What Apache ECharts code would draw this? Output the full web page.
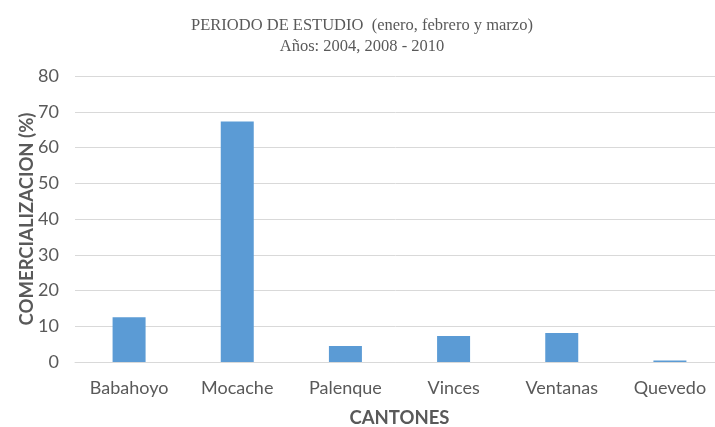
<!DOCTYPE html>
<html>
<head>
<meta charset="utf-8">
<script src="https://cdn.jsdelivr.net/npm/echarts@6/dist/echarts.min.js"></script>
<style>
  html, body { margin: 0; padding: 0; background: #fff; }
  #chart { width: 715px; height: 427px; }
</style>
</head>
<body>
<div id="chart"></div>
<script>
// datos del grafico
var cantones = ['Babahoyo', 'Mocache', 'Palenque', 'Vinces', 'Ventanas', 'Quevedo'];
var comercializacion = [12.5, 67.3, 4.5, 7.3, 8.1, 0.4];

var chart = echarts.init(document.getElementById('chart'));
var grisTexto = '#595959';

chart.setOption({
  animation: false,
  title: {
    text: 'PERIODO DE ESTUDIO  (enero, febrero y marzo)\nAños: 2004, 2008 - 2010',
    left: 357,
    top: 10,
    textAlign: 'center',
    textStyle: {
      fontFamily: 'Liberation Serif',
      fontWeight: 'normal',
      fontSize: 16.5,
      lineHeight: 21,
      color: grisTexto
    }
  },
  grid: {
    left: 75,
    top: 76,
    right: -9,
    bottom: 65,
    outerBoundsMode: 'none',
    containLabel: false
  },
  xAxis: {
    type: 'category',
    data: cantones,
    name: 'CANTONES',
    nameLocation: 'middle',
    nameGap: 47,
    nameTextStyle: {
      fontFamily: 'Lato',
      fontWeight: 'bold',
      fontSize: 18.5,
      color: grisTexto
    },
    axisLine: { lineStyle: { color: '#d9d9d9' } },
    axisTick: { show: false },
    axisLabel: {
      margin: 17,
      fontFamily: 'Lato',
      fontSize: 18,
      color: grisTexto
    }
  },
  yAxis: {
    type: 'value',
    min: 0,
    max: 80,
    interval: 10,
    name: 'COMERCIALIZACION (%)',
    nameLocation: 'middle',
    nameGap: 38,
    nameMoveOverlap: false,
    nameTextStyle: {
      fontFamily: 'Lato',
      fontWeight: 'bold',
      fontSize: 18.5,
      color: grisTexto
    },
    axisLine: { show: false },
    axisTick: { show: false },
    axisLabel: {
      margin: 16,
      fontFamily: 'Lato',
      fontSize: 18,
      color: grisTexto
    },
    splitLine: { lineStyle: { color: '#d9d9d9' } }
  },
  series: [{
    type: 'bar',
    data: comercializacion,
    barWidth: 33,
    itemStyle: { color: '#5b9bd5' }
  }]
});
</script>
</body>
</html>
